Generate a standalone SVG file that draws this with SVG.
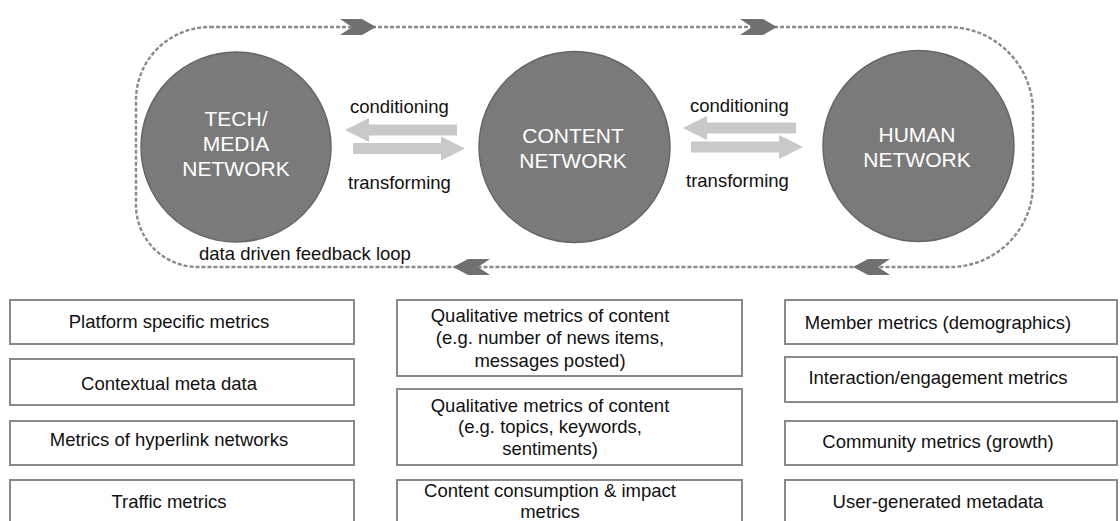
<svg xmlns="http://www.w3.org/2000/svg" width="1120" height="521" viewBox="0 0 1120 521">
<style>
.bg{fill:#ffffff}
.loop{fill:none;stroke:#8c8c8c;stroke-width:2.4;stroke-dasharray:4 2}
.chev{fill:#707070}
.circ{fill:#7a7a7a;stroke:#666666;stroke-width:1.5}
.ctext{font-family:"Liberation Sans",Arial,sans-serif;font-size:21px;fill:#ffffff;text-anchor:middle}
.lbl{font-family:"Liberation Sans",Arial,sans-serif;font-size:18.5px;fill:#111111}
.gar{fill:#c9c9c9}
.box{fill:#ffffff;stroke:#8a8a8a;stroke-width:2}
.btext{font-family:"Liberation Sans",Arial,sans-serif;font-size:18.5px;fill:#111111;text-anchor:middle}
</style>
<rect class="bg" x="0" y="0" width="1120" height="521"/>
<g id="connectors">
  <path class="loop" d="M210,27 L948,27 A85,85 0 0 1 1033,112 L1033,184 A83,83 0 0 1 950,267 L198,267 A62,62 0 0 1 136,205 L136,100 A74,73 0 0 1 210,27 Z"/>
  <polygon class="chev" points="340,19 362,19 376,27 362,35 340,35 352,27"/>
  <polygon class="chev" points="740,19 763,19 777,27 763,35 740,35 752,27"/>
  <polygon class="chev" points="490,259 468,259 453,267 468,275 490,275 478,267"/>
  <polygon class="chev" points="890,259 868,259 853,267 868,275 890,275 878,267"/>
  <polygon class="gar" points="457,124.5 369,124.5 369,118 345,130 369,142 369,135.5 457,135.5"/>
  <polygon class="gar" points="353,143 441,143 441,136.5 465,148.5 441,160.5 441,154 353,154"/>
  <polygon class="gar" points="796,122.5 707,122.5 707,116 683,128 707,140 707,133.5 796,133.5"/>
  <polygon class="gar" points="691,141.5 779,141.5 779,135 803,147 779,159 779,152.5 691,152.5"/>
  <text class="lbl" x="350" y="113">conditioning</text>
  <text class="lbl" x="348" y="189">transforming</text>
  <text class="lbl" x="690" y="112">conditioning</text>
  <text class="lbl" x="686" y="187">transforming</text>
  <text class="lbl" x="199" y="260">data driven feedback loop</text>
</g>
<g id="tech-media-network">
  <circle class="circ" cx="236" cy="147" r="95"/>
  <text class="ctext" x="236" y="126">TECH/</text>
  <text class="ctext" x="236" y="151">MEDIA</text>
  <text class="ctext" x="236" y="176">NETWORK</text>
</g>
<g id="content-network">
  <circle class="circ" cx="574.5" cy="147" r="95.5"/>
  <text class="ctext" x="573" y="143">CONTENT</text>
  <text class="ctext" x="573" y="168">NETWORK</text>
</g>
<g id="human-network">
  <circle class="circ" cx="918.5" cy="146" r="95.5"/>
  <text class="ctext" x="917" y="142">HUMAN</text>
  <text class="ctext" x="917" y="167">NETWORK</text>
</g>
<g id="box-platform">
  <rect class="box" x="10" y="300" width="344" height="44"/>
  <text class="btext" x="169" y="328">Platform specific metrics</text>
</g>
<g id="box-contextual">
  <rect class="box" x="10" y="359" width="344" height="46"/>
  <text class="btext" x="169" y="390">Contextual meta data</text>
</g>
<g id="box-hyperlink">
  <rect class="box" x="10" y="421" width="344" height="44"/>
  <text class="btext" x="169" y="446">Metrics of hyperlink networks</text>
</g>
<g id="box-traffic">
  <rect class="box" x="10" y="480" width="344" height="50"/>
  <text class="btext" x="169" y="508">Traffic metrics</text>
</g>
<g id="box-qual1">
  <rect class="box" x="397" y="300" width="345" height="76"/>
  <text class="btext" x="550" y="322">Qualitative metrics of content</text>
  <text class="btext" x="550" y="344">(e.g. number of news items,</text>
  <text class="btext" x="550" y="367">messages posted)</text>
</g>
<g id="box-qual2">
  <rect class="box" x="397" y="389" width="345" height="76"/>
  <text class="btext" x="550" y="412">Qualitative metrics of content</text>
  <text class="btext" x="550" y="433">(e.g. topics, keywords,</text>
  <text class="btext" x="550" y="455">sentiments)</text>
</g>
<g id="box-consumption">
  <rect class="box" x="397" y="480" width="345" height="50"/>
  <text class="btext" x="550" y="497">Content consumption &amp; impact</text>
  <text class="btext" x="550" y="518">metrics</text>
</g>
<g id="box-member">
  <rect class="box" x="785" y="300" width="332" height="44"/>
  <text class="btext" x="938" y="329">Member metrics (demographics)</text>
</g>
<g id="box-interaction">
  <rect class="box" x="785" y="357" width="332" height="45"/>
  <text class="btext" x="938" y="384">Interaction/engagement metrics</text>
</g>
<g id="box-community">
  <rect class="box" x="785" y="421" width="332" height="44"/>
  <text class="btext" x="938" y="448">Community metrics (growth)</text>
</g>
<g id="box-usergen">
  <rect class="box" x="785" y="480" width="332" height="50"/>
  <text class="btext" x="938" y="508">User-generated metadata</text>
</g>
</svg>
